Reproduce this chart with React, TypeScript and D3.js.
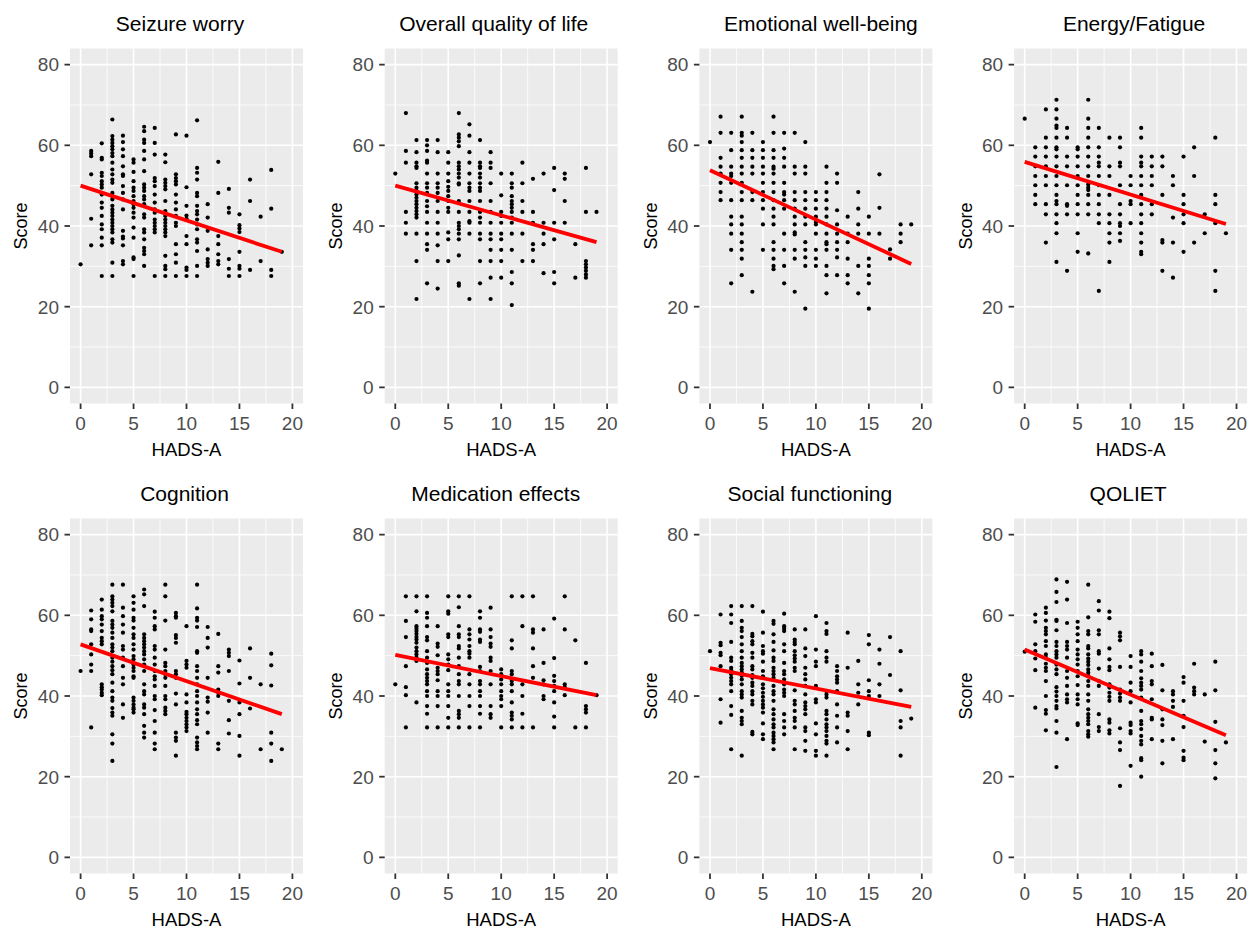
import React from "react";
import * as d3 from "d3";

// ---------- Data ----------
const titles = [
  "Seizure worry",
  "Overall quality of life",
  "Emotional well-being",
  "Energy/Fatigue",
  "Cognition",
  "Medication effects",
  "Social functioning",
  "QOLIET",
];
const xAxisTitle = "HADS-A";
const yAxisTitle = "Score";
const xTicks = [0, 5, 10, 15, 20];
const yTicks = [0, 20, 40, 60, 80];
const xMinor = [2.5, 7.5, 12.5, 17.5];
const yMinor = [10, 30, 50, 70];

// each array: index = HADS-A value (0..19), entries = scores at that value
const seizureWorry: number[][] = [
  [30.5],
  [58.6, 58.0, 57.3, 52.8, 41.8, 35.2],
  [60.5, 56.9, 56.5, 53.2, 52.4, 51.1, 50.3, 49.5, 47.8, 45.8, 44.5, 42.5, 40.4, 39.2, 37.1, 35.2, 27.6],
  [66.4, 62.3, 61.4, 60.6, 59.8, 59.0, 58.1, 57.3, 55.7, 54.0, 52.8, 51.5, 50.7, 48.2, 47.4, 46.6, 45.0, 44.1, 43.3, 42.5, 41.6, 40.8, 40.0, 39.2, 38.4, 36.7, 35.9, 30.9, 27.6],
  [62.4, 60.8, 59.0, 57.3, 54.8, 52.8, 52.4, 49.9, 48.2, 46.6, 44.1, 38.8, 37.4, 36.9, 35.2, 31.3, 30.5],
  [56.5, 55.7, 53.4, 51.1, 49.5, 48.7, 47.4, 46.2, 45.4, 44.5, 43.3, 42.1, 39.6, 37.1, 32.2, 31.8, 27.6],
  [64.6, 63.5, 61.4, 60.6, 58.6, 56.5, 53.6, 50.3, 49.5, 48.7, 47.4, 46.6, 45.4, 42.9, 42.1, 39.2, 38.4, 36.7, 34.6, 33.8, 33.0, 30.1],
  [64.3, 60.6, 57.7, 51.9, 51.1, 49.9, 47.8, 45.8, 44.1, 43.3, 41.6, 40.8, 40.0, 39.2, 38.4, 27.6],
  [57.7, 55.8, 51.5, 50.7, 49.9, 49.1, 46.2, 43.7, 42.5, 41.6, 40.8, 40.0, 39.2, 38.4, 37.5, 32.6, 30.1, 29.3, 27.6],
  [62.7, 52.8, 51.9, 51.1, 50.3, 47.8, 45.8, 44.1, 42.5, 40.8, 40.0, 35.5, 33.0, 30.9, 27.6],
  [62.4, 49.6, 45.0, 42.6, 41.8, 37.5, 35.5, 29.7, 29.1, 27.6],
  [66.2, 54.4, 53.2, 51.5, 48.2, 47.4, 45.0, 43.7, 42.9, 41.6, 40.4, 39.2, 36.7, 35.9, 33.8, 30.1, 27.6],
  [45.4, 42.1, 38.8, 34.2, 31.8, 30.9, 30.1],
  [55.9, 48.2, 37.5, 35.5, 33.0, 31.3, 30.5],
  [49.2, 44.5, 43.3, 31.8, 29.4, 27.6],
  [42.9, 40.2, 39.4, 38.5, 33.6, 30.1, 29.4, 27.6],
  [51.5, 46.2, 29.1],
  [42.3, 31.3],
  [53.9, 44.3, 29.1, 27.6],
  [33.6],
];

const overallQoL: number[][] = [
  [53.0],
  [68.0, 58.6, 55.7, 43.5, 40.8, 38.1],
  [61.3, 58.3, 55.7, 54.8, 54.4, 50.6, 49.5, 48.7, 47.8, 47.0, 46.2, 45.4, 44.5, 43.7, 42.9, 42.1, 38.1, 31.3, 21.9],
  [61.3, 60.0, 58.6, 56.2, 55.7, 53.0, 50.6, 49.5, 48.2, 46.2, 44.9, 43.5, 40.8, 38.1, 35.5, 34.1, 25.8],
  [61.3, 58.3, 53.0, 50.6, 49.5, 48.2, 46.2, 43.5, 40.8, 38.1, 35.2, 31.3, 24.5],
  [58.3, 55.7, 53.0, 51.1, 49.7, 48.7, 47.4, 46.2, 44.5, 43.5, 38.4, 36.7, 31.3],
  [68.0, 62.7, 61.9, 61.0, 59.8, 55.7, 54.8, 54.0, 53.0, 52.0, 50.6, 50.3, 46.2, 43.5, 40.8, 40.0, 39.2, 38.1, 36.7, 32.7, 25.8, 25.2],
  [65.2, 62.4, 58.3, 55.7, 53.0, 50.6, 49.5, 48.7, 46.2, 43.5, 41.2, 40.8, 38.1, 21.9],
  [61.3, 55.7, 54.8, 54.4, 53.0, 52.0, 50.6, 49.5, 48.7, 46.2, 43.5, 42.1, 40.8, 38.1, 36.7, 31.3, 25.8],
  [58.3, 55.7, 54.4, 50.6, 46.2, 43.5, 40.8, 38.1, 36.7, 34.1, 31.3, 27.2, 21.9],
  [53.0, 47.6, 43.5, 42.5, 40.8, 38.1, 36.7, 34.1, 31.3, 27.2],
  [53.0, 50.6, 49.5, 47.4, 46.2, 45.4, 44.5, 43.5, 42.1, 40.8, 38.1, 34.1, 28.6, 25.8, 20.4],
  [55.7, 50.6, 46.2, 43.5, 38.1, 31.3],
  [51.7, 43.5, 40.8, 35.5, 34.1, 31.3],
  [53.0, 40.8, 38.1, 35.5, 28.3],
  [54.4, 48.9, 40.8, 36.7, 28.6, 25.8],
  [53.0, 51.7, 46.2, 40.8],
  [35.5, 27.2],
  [54.4, 43.5, 31.3, 30.5, 29.7, 28.9, 28.0, 27.2],
  [43.5],
];

const emotionalWellBeing: number[][] = [
  [60.8],
  [67.1, 63.1, 56.9, 54.7, 53.0, 50.7, 48.4, 46.4],
  [63.1, 58.8, 54.7, 53.0, 52.4, 50.7, 46.4, 42.3, 40.4, 38.1, 34.1, 25.8],
  [67.1, 63.1, 62.4, 60.8, 58.8, 56.9, 54.7, 53.0, 50.7, 48.4, 46.4, 42.3, 40.4, 38.1, 36.0, 34.1, 31.9, 27.8],
  [63.1, 58.8, 56.9, 54.7, 53.0, 48.4, 46.4, 23.7],
  [60.8, 58.8, 56.9, 54.7, 53.0, 50.7, 48.4, 46.4, 44.3, 40.4, 34.1],
  [67.1, 63.1, 58.8, 56.9, 54.7, 54.2, 53.0, 50.7, 48.4, 46.4, 44.3, 42.3, 40.4, 36.0, 34.1, 31.9, 30.1, 29.3],
  [63.1, 59.2, 56.9, 54.7, 50.7, 48.4, 47.8, 46.4, 44.3, 38.1, 34.1, 30.1, 25.8],
  [63.1, 54.7, 53.0, 48.4, 46.4, 44.3, 42.3, 40.4, 38.4, 37.9, 34.1, 31.9, 23.7],
  [60.8, 54.7, 53.0, 48.4, 46.4, 44.3, 42.3, 40.4, 36.0, 34.1, 32.2, 30.1, 19.5],
  [48.4, 46.4, 44.3, 42.3, 41.0, 40.4, 38.1, 34.1, 31.9, 30.1],
  [54.7, 50.7, 48.4, 46.4, 44.3, 42.3, 40.4, 38.1, 36.0, 35.5, 34.1, 30.1, 27.8, 23.3],
  [53.0, 50.7, 43.9, 40.4, 38.1, 36.0, 34.1, 32.2, 27.8],
  [42.3, 38.1, 36.0, 31.9, 27.8, 25.8],
  [48.4, 44.3, 40.4, 38.1, 30.1, 23.3],
  [42.3, 38.1, 31.9, 30.1, 27.8, 25.8, 19.5],
  [52.8, 44.5, 38.1],
  [34.2, 31.9],
  [40.4, 38.1, 36.0],
  [40.4],
];

const energyFatigue: number[][] = [
  [66.6],
  [59.5, 57.2, 54.8, 52.4, 50.1, 47.7, 45.4],
  [68.9, 61.9, 59.5, 57.2, 54.8, 52.4, 50.1, 45.4, 42.9, 35.9],
  [71.3, 68.9, 66.6, 64.9, 64.3, 61.9, 59.5, 59.0, 57.2, 54.8, 52.4, 50.1, 47.7, 46.2, 45.4, 42.9, 40.7, 38.2, 31.1],
  [64.3, 61.9, 57.2, 54.8, 50.1, 45.4, 45.0, 42.9, 28.9],
  [59.5, 59.0, 57.2, 54.8, 52.4, 50.1, 47.7, 45.4, 42.9, 38.2, 33.6],
  [71.3, 66.6, 64.3, 61.9, 59.5, 57.2, 54.8, 52.4, 50.3, 49.5, 48.9, 47.7, 45.4, 42.9, 33.2],
  [64.3, 59.5, 57.2, 55.7, 54.8, 52.4, 50.1, 47.7, 45.4, 42.9, 40.7, 23.9],
  [61.9, 54.8, 52.4, 47.7, 42.9, 40.7, 38.2, 35.9, 31.1],
  [61.9, 59.5, 55.7, 54.8, 50.1, 45.4, 42.9, 40.7, 40.0, 38.2, 36.3],
  [52.4, 50.1, 46.2, 45.4, 40.7],
  [64.3, 61.9, 57.2, 55.7, 54.8, 52.4, 50.1, 47.7, 45.4, 42.9, 40.7, 38.2, 35.9, 33.6, 33.0],
  [57.2, 54.8, 52.4, 50.1, 45.4, 42.9],
  [57.2, 54.8, 47.7, 36.5, 35.9, 28.9],
  [52.4, 50.1, 42.1, 35.9, 27.2],
  [57.2, 47.7, 45.4, 42.9, 40.7, 33.6],
  [59.5, 52.4, 35.9],
  [42.9, 38.2],
  [61.9, 47.7, 45.4, 40.7, 28.9, 23.9],
  [38.2],
];

const cognition: number[][] = [
  [46.2],
  [61.2, 59.0, 56.5, 56.1, 52.8, 50.3, 47.8, 46.2, 32.2],
  [63.9, 61.4, 59.8, 59.0, 57.7, 56.1, 54.4, 53.6, 52.8, 42.9, 42.2, 41.6, 40.8, 40.2],
  [67.6, 64.7, 63.9, 63.1, 62.3, 61.0, 58.6, 57.7, 56.9, 55.7, 54.4, 52.8, 52.0, 51.1, 49.5, 48.5, 47.4, 46.4, 45.4, 43.3, 41.2, 39.6, 38.8, 37.0, 35.9, 35.1, 30.5, 28.2, 23.9],
  [67.6, 61.9, 59.8, 57.7, 55.7, 52.4, 51.5, 49.5, 47.4, 44.5, 42.9, 37.9, 34.6],
  [64.7, 63.1, 61.4, 59.4, 58.7, 56.9, 55.3, 54.4, 52.8, 51.5, 49.9, 49.1, 47.8, 47.0, 46.2, 44.9, 44.5, 39.6, 38.8, 37.9, 37.1, 36.7, 35.9],
  [66.4, 65.2, 62.3, 55.3, 54.4, 53.6, 52.8, 52.0, 51.1, 50.3, 49.1, 47.8, 46.2, 42.9, 41.2, 40.4, 37.9, 37.1, 35.5, 32.6, 30.9, 29.7],
  [60.9, 59.4, 57.3, 56.5, 52.4, 51.5, 49.5, 47.8, 46.2, 44.9, 44.1, 42.5, 40.0, 39.2, 36.5, 33.8, 30.9, 28.2, 26.8],
  [67.6, 64.7, 58.7, 51.5, 48.2, 47.4, 46.2, 45.4, 44.5, 42.5, 40.0, 39.2, 37.1, 36.3, 35.5],
  [60.6, 59.8, 59.4, 55.1, 54.4, 53.2, 46.2, 45.4, 44.5, 40.6, 37.9, 30.9, 29.7, 28.9, 25.2],
  [57.3, 48.7, 47.8, 47.0, 40.4, 38.4, 36.1, 35.5, 34.6, 33.8, 33.0, 32.2, 31.3],
  [67.6, 61.7, 59.4, 58.7, 57.1, 51.1, 50.7, 47.4, 46.2, 44.5, 42.9, 41.2, 40.0, 38.4, 36.7, 35.5, 34.0, 33.0, 29.7, 28.5, 27.6, 26.8],
  [57.1, 54.4, 52.0, 44.5, 39.6, 38.6, 35.9, 30.9],
  [55.4, 47.4, 45.8, 41.6, 40.8, 40.0, 28.2, 26.8],
  [51.5, 50.7, 49.9, 46.2, 38.8, 34.0, 30.7],
  [48.8, 43.1, 38.4, 35.5, 30.1, 25.2],
  [51.8, 44.5, 36.9],
  [42.9, 26.8],
  [50.5, 47.6, 42.6, 30.9, 28.2, 23.9],
  [26.8],
];

const medicationEffects: number[][] = [
  [42.9],
  [64.7, 58.6, 54.6, 47.4, 42.2, 40.2, 32.2],
  [64.7, 61.0, 57.3, 56.7, 56.1, 55.4, 54.6, 54.0, 53.2, 52.0, 51.1, 50.3, 49.5, 48.7, 38.4],
  [64.7, 60.6, 59.4, 57.3, 54.6, 53.8, 51.1, 49.5, 48.2, 46.6, 45.4, 44.5, 43.7, 42.9, 41.2, 40.0, 37.5, 35.6, 32.2],
  [57.3, 53.0, 52.2, 50.1, 47.0, 46.2, 45.4, 43.9, 41.2, 40.0, 37.5, 32.2],
  [64.7, 61.0, 60.4, 55.3, 54.6, 50.3, 49.1, 47.8, 46.4, 42.9, 41.2, 40.0, 37.5, 34.6, 32.2],
  [64.7, 62.0, 57.3, 55.3, 54.6, 52.4, 51.8, 49.5, 47.4, 45.4, 43.7, 42.9, 40.0, 36.3, 35.5, 34.6, 32.2],
  [64.7, 56.5, 55.3, 54.0, 52.4, 51.1, 50.5, 49.5, 45.4, 42.9, 40.0, 37.5, 32.2],
  [61.0, 59.4, 56.5, 55.9, 54.0, 53.4, 47.2, 46.2, 43.7, 42.9, 41.2, 40.0, 37.5, 35.6, 32.2],
  [61.9, 56.5, 54.6, 53.0, 52.2, 49.5, 48.7, 46.2, 42.9, 37.5, 35.5, 34.6],
  [46.6, 45.4, 44.1, 42.9, 41.2, 40.0, 39.2, 37.5, 32.2],
  [64.7, 53.8, 51.8, 46.2, 45.4, 43.7, 42.9, 41.2, 38.4, 35.9, 35.1, 34.2, 32.2],
  [64.7, 57.3, 42.9, 40.0, 35.6, 32.2],
  [64.7, 56.5, 55.7, 51.8, 47.4, 44.5, 32.2],
  [56.5, 48.2, 43.9, 42.9, 40.0, 39.2],
  [59.2, 49.4, 45.0, 43.7, 42.5, 41.2, 38.4, 34.9, 32.2],
  [64.7, 56.5, 42.9, 42.2, 40.2],
  [53.8, 32.2],
  [48.2, 37.5, 36.7, 35.9, 32.2],
  [40.2],
];

const socialFunctioning: number[][] = [
  [51.1],
  [60.2, 53.2, 52.6, 50.7, 50.1, 47.4, 39.2, 33.4],
  [62.3, 60.2, 58.1, 53.4, 49.5, 48.7, 47.0, 46.4, 45.4, 44.5, 43.7, 42.9, 41.2, 37.5, 35.3, 26.8],
  [62.3, 58.6, 56.9, 56.1, 54.6, 52.8, 51.1, 49.5, 48.2, 47.4, 46.6, 45.8, 45.0, 44.1, 42.9, 41.2, 40.4, 39.6, 36.3, 34.6, 33.8, 33.0, 25.2],
  [62.3, 55.4, 54.8, 53.6, 52.8, 50.7, 49.5, 47.4, 46.6, 45.2, 44.5, 43.3, 42.5, 41.2, 40.4, 38.8, 37.9, 31.1, 30.5],
  [60.9, 55.7, 52.4, 51.1, 50.5, 48.5, 46.2, 44.9, 42.9, 41.9, 40.8, 39.8, 38.8, 37.9, 37.1, 35.9, 33.2, 30.5, 29.3],
  [58.6, 57.9, 55.3, 53.4, 51.3, 49.5, 48.7, 47.0, 46.2, 45.4, 44.5, 42.5, 41.2, 40.4, 38.8, 36.7, 35.5, 34.2, 33.0, 32.2, 30.9, 30.1, 29.3, 28.5, 26.8],
  [60.4, 57.3, 56.7, 56.1, 52.8, 51.1, 48.2, 46.2, 45.4, 44.1, 42.9, 41.6, 40.8, 40.0, 35.5, 33.8, 32.2, 30.5],
  [56.5, 54.0, 53.4, 52.8, 51.1, 50.1, 49.3, 48.5, 47.0, 46.2, 41.4, 38.8, 37.9, 36.3, 34.6, 33.8, 32.2, 26.8],
  [56.5, 51.8, 49.9, 47.0, 45.4, 44.1, 42.5, 40.4, 38.4, 37.5, 36.7, 35.5, 32.2, 31.3, 28.9, 26.4],
  [59.8, 51.5, 48.5, 47.4, 42.5, 39.2, 38.4, 33.2, 30.5, 26.4, 25.2],
  [58.1, 56.1, 55.4, 51.1, 49.5, 48.5, 41.2, 40.4, 39.6, 36.3, 35.5, 34.2, 33.0, 32.2, 31.3, 30.1, 28.9, 28.2, 25.2],
  [47.4, 46.2, 44.9, 44.1, 43.3, 41.2, 37.9, 35.1, 32.2, 28.5],
  [55.7, 47.0, 35.9, 35.1, 31.3, 26.8],
  [48.7, 42.9, 40.8, 37.9],
  [55.1, 52.8, 43.9, 41.2, 40.0, 30.9, 30.3],
  [51.5, 48.0, 42.9, 40.0],
  [54.6, 45.2],
  [51.1, 41.4, 33.8, 32.2, 25.2],
  [34.4],
];

const qoliet: number[][] = [
  [51.0],
  [60.2, 58.4, 52.8, 51.1, 49.3, 46.4, 37.1],
  [61.9, 60.6, 58.7, 56.9, 56.1, 55.3, 53.6, 52.4, 50.3, 49.5, 48.0, 47.0, 46.2, 43.7, 40.0, 36.5, 35.6, 31.5],
  [68.9, 65.8, 63.3, 58.9, 58.6, 56.3, 53.4, 52.4, 51.1, 50.3, 49.5, 47.8, 46.6, 45.4, 42.2, 41.1, 40.0, 38.8, 37.5, 36.9, 33.8, 30.9, 22.4],
  [68.3, 63.9, 58.1, 53.4, 52.4, 51.5, 49.5, 46.2, 44.5, 42.5, 40.4, 39.2, 38.4, 29.3],
  [58.4, 56.9, 55.3, 53.6, 51.5, 50.3, 49.1, 47.8, 46.2, 44.9, 42.7, 40.4, 39.2, 37.9, 33.2, 32.8],
  [67.6, 59.5, 56.1, 55.3, 52.4, 51.8, 50.3, 49.3, 48.5, 47.7, 46.6, 45.8, 45.0, 43.7, 42.5, 40.4, 38.8, 36.7, 35.5, 34.6, 33.8, 33.0, 31.3, 30.5, 29.9],
  [63.5, 61.2, 56.3, 55.3, 51.1, 50.5, 46.8, 43.7, 42.5, 35.5, 32.3, 31.3],
  [60.9, 59.3, 51.8, 49.1, 47.2, 46.4, 42.9, 42.1, 40.8, 39.8, 38.8, 34.2, 33.4, 31.5, 30.7],
  [55.7, 54.8, 53.8, 47.2, 41.6, 40.6, 39.6, 38.8, 32.0, 28.5, 26.6, 17.7],
  [49.9, 47.2, 43.3, 41.2, 38.4, 33.4, 32.8, 31.3, 30.7, 22.7],
  [51.1, 50.3, 48.5, 46.2, 44.4, 43.3, 42.5, 41.6, 39.6, 36.3, 33.8, 33.0, 31.8, 30.1, 28.9, 28.0, 24.6, 24.1, 20.0],
  [50.5, 47.4, 43.7, 42.9, 39.2, 34.6, 34.2, 29.3],
  [47.7, 41.4, 36.7, 34.2, 32.8, 28.9, 23.3],
  [41.2, 40.4, 38.8, 37.3, 29.3],
  [44.7, 43.3, 38.8, 35.1, 32.3, 26.4, 24.7, 24.1],
  [48.0, 42.1, 41.2, 40.4],
  [40.4, 28.7],
  [48.5, 41.4, 33.6, 26.6, 23.3, 19.6],
  [28.5],
];

const panelData = [
  seizureWorry,
  overallQoL,
  emotionalWellBeing,
  energyFatigue,
  cognition,
  medicationEffects,
  socialFunctioning,
  qoliet,
];

// fitted regression line: score at HADS-A = 0 and at HADS-A = 19
const fitX = [0, 19];
const fitStart = [50.0, 50.0, 53.8, 55.9, 52.8, 50.2, 46.9, 51.5];
const fitEnd = [33.6, 36.0, 30.6, 40.5, 35.5, 40.2, 37.3, 30.3];

// ---------- Layout ----------
const W = 1249;
const H = 930;
const PW = 233;
const PH = 355;
const LEFT0 = 70;
const COL_STEP = 314.7;
const TOP0 = 48.5;
const ROW_STEP = 470;
const titleShift = [-6.5, -7.5, 5, 3.5, -2, -5.5, -6, -2.5];
const FONT = "'Liberation Sans', Arial, Helvetica, sans-serif";

const x = d3.scaleLinear().domain([-1, 21]).range([0, PW]);
const y = d3.scaleLinear().domain([-4, 84]).range([PH, 0]);
const fitLine = d3
  .line<[number, number]>()
  .x((d) => x(d[0]))
  .y((d) => y(d[1]));

function Panel({ idx }: { idx: number }) {
  const col = idx % 4;
  const row = Math.floor(idx / 4);
  const left = LEFT0 + col * COL_STEP;
  const top = TOP0 + row * ROW_STEP;
  const data = panelData[idx];
  const pts: [number, number][] = [];
  data.forEach((vals, xi) => vals.forEach((v) => pts.push([xi, v])));
  const fit: [number, number][] = [
    [fitX[0], fitStart[idx]],
    [fitX[1], fitEnd[idx]],
  ];
  return (
    <g transform={`translate(${left},${top})`}>
      <text
        x={PW / 2 + titleShift[idx]}
        y={-17.5}
        textAnchor="middle"
        fontSize={21}
        fill="#000"
      >
        {titles[idx]}
      </text>
      <rect x={0} y={0} width={PW} height={PH} fill="#EBEBEB" />
      {xMinor.map((t) => (
        <line key={"xm" + t} x1={x(t)} x2={x(t)} y1={0} y2={PH} stroke="#fff" strokeWidth={0.8} />
      ))}
      {yMinor.map((t) => (
        <line key={"ym" + t} x1={0} x2={PW} y1={y(t)} y2={y(t)} stroke="#fff" strokeWidth={0.8} />
      ))}
      {xTicks.map((t) => (
        <line key={"xM" + t} x1={x(t)} x2={x(t)} y1={0} y2={PH} stroke="#fff" strokeWidth={1.6} />
      ))}
      {yTicks.map((t) => (
        <line key={"yM" + t} x1={0} x2={PW} y1={y(t)} y2={y(t)} stroke="#fff" strokeWidth={1.6} />
      ))}
      {pts.map((p, i) => (
        <circle key={i} cx={x(p[0])} cy={y(p[1])} r={2.1} fill="#000" />
      ))}
      <path d={fitLine(fit) || ""} stroke="#FF0000" strokeWidth={3.8} fill="none" />
      {/* y axis */}
      {yTicks.map((t) => (
        <g key={"yt" + t}>
          <line x1={-5.5} x2={0} y1={y(t)} y2={y(t)} stroke="#333" strokeWidth={1.8} />
          <text x={-11} y={y(t)} dy="0.36em" textAnchor="end" fontSize={19} fill="#4D4D4D">
            {t}
          </text>
        </g>
      ))}
      {/* x axis */}
      {xTicks.map((t) => (
        <g key={"xt" + t}>
          <line x1={x(t)} x2={x(t)} y1={PH} y2={PH + 5.5} stroke="#333" strokeWidth={1.8} />
          <text x={x(t)} y={PH + 26} textAnchor="middle" fontSize={19} fill="#4D4D4D">
            {t}
          </text>
        </g>
      ))}
      <text x={PW / 2} y={PH + 52.5} textAnchor="middle" fontSize={18.5} fill="#000">
        {xAxisTitle}
      </text>
      <text
        transform={`translate(${-49},${PH / 2}) rotate(-90)`}
        textAnchor="middle"
        dy="0.36em"
        fontSize={18}
        fill="#000"
      >
        {yAxisTitle}
      </text>
    </g>
  );
}

export default function App() {
  return (
    <svg
      width={W}
      height={H}
      viewBox={`0 0 ${W} ${H}`}
      style={{ position: "absolute", left: 0, top: 0, background: "#fff" }}
      fontFamily={FONT}
    >
      <rect x={0} y={0} width={W} height={H} fill="#fff" />
      {titles.map((_, i) => (
        <Panel key={i} idx={i} />
      ))}
    </svg>
  );
}
